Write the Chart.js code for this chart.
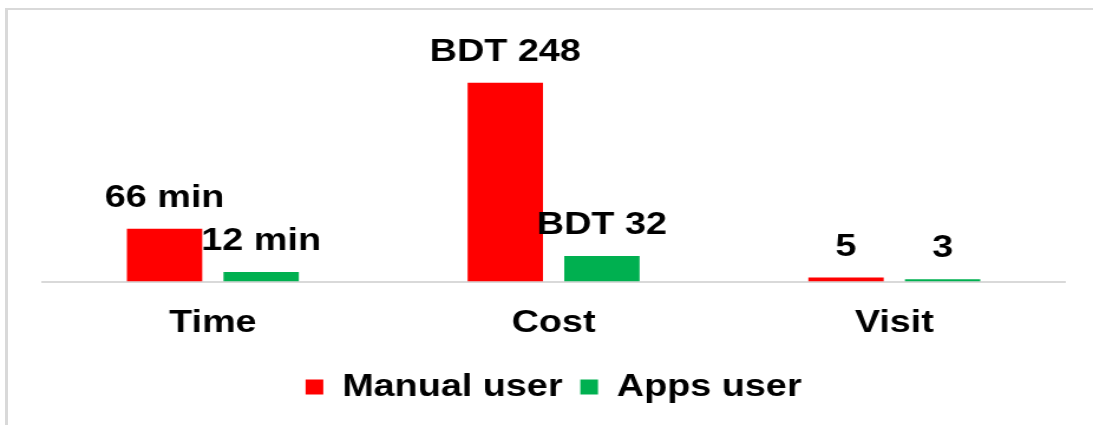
<!DOCTYPE html>
<html lang="en">
  <head>
    <meta charset="UTF-8" />
    <title>Time, Cost and Visit: Manual vs Apps user</title>
    <script src="https://cdn.jsdelivr.net/npm/chart.js@4.4.0/dist/chart.umd.min.js"></script>
    <style>
      html, body { margin: 0; padding: 0; background: #fff; overflow: hidden; }
      #frame {
        position: absolute;
        left: 5px;
        top: 8px;
        width: 1100px;
        height: 430px;
        border-left: 3px solid #d9d9d9;
        border-top: 2px solid #d9d9d9;
      }
      #myChart { position: absolute; left: 0; top: 0; }
    </style>
  </head>
  <body>
    <div id="frame"></div>
    <!-- the original picture is stretched sideways, so the canvas is too (inline style keeps Chart.js from resetting it) -->
    <canvas id="myChart" width="926" height="425" style="width:1093px;height:425px"></canvas>

    <script>
      const categories = ['Time', 'Cost', 'Visit'];
      const manualValues = [66, 248, 5];
      const appsValues = [12, 32, 3];
      const manualLabels = ['66 min', 'BDT 248', '5'];
      const appsLabels = ['12 min', 'BDT 32', '3'];

      const font = '"Liberation Sans", Arial, sans-serif';

      // value labels drawn above each bar
      const valueLabels = {
        id: 'valueLabels',
        afterDatasetsDraw(chart) {
          const ctx = chart.ctx;
          ctx.save();
          ctx.font = 'bold 32px ' + font;
          ctx.fillStyle = '#000';
          ctx.textAlign = 'center';
          ctx.textBaseline = 'alphabetic';
          chart.data.datasets.forEach((ds, i) => {
            chart.getDatasetMeta(i).data.forEach((bar, j) => {
              ctx.fillText(ds.valueText[j], bar.x, bar.y - 22);
            });
          });
          ctx.restore();
        }
      };

      const ctx = document.getElementById('myChart').getContext('2d');
      const myChart = new Chart(ctx, {
        type: 'bar',
        data: {
          labels: categories,
          datasets: [
            {
              label: 'Manual user',
              data: manualValues,
              valueText: manualLabels,
              backgroundColor: '#ff0000',
              categoryPercentage: 0.567,
              barPercentage: 0.78
            },
            {
              label: 'Apps user',
              data: appsValues,
              valueText: appsLabels,
              backgroundColor: '#00b050',
              categoryPercentage: 0.567,
              barPercentage: 0.78
            }
          ]
        },
        options: {
          responsive: false,
          animation: false,
          layout: { padding: { top: 41, left: 36, right: 24, bottom: 12 } },
          scales: {
            x: {
              grid: { display: false },
              border: { display: true, color: '#d9d9d9', width: 2 },
              ticks: {
                color: '#000',
                padding: 14,
                font: { family: font, size: 32, weight: 'bold' }
              }
            },
            y: {
              display: false,
              min: 0,
              max: 300
            }
          },
          plugins: {
            legend: {
              position: 'bottom',
              labels: {
                color: '#000',
                boxWidth: 15,
                boxHeight: 15,
                padding: 15,
                font: { family: font, size: 32, weight: 'bold' }
              }
            },
            tooltip: { enabled: false }
          }
        },
        plugins: [valueLabels]
      });
    </script>
  </body>
</html>
